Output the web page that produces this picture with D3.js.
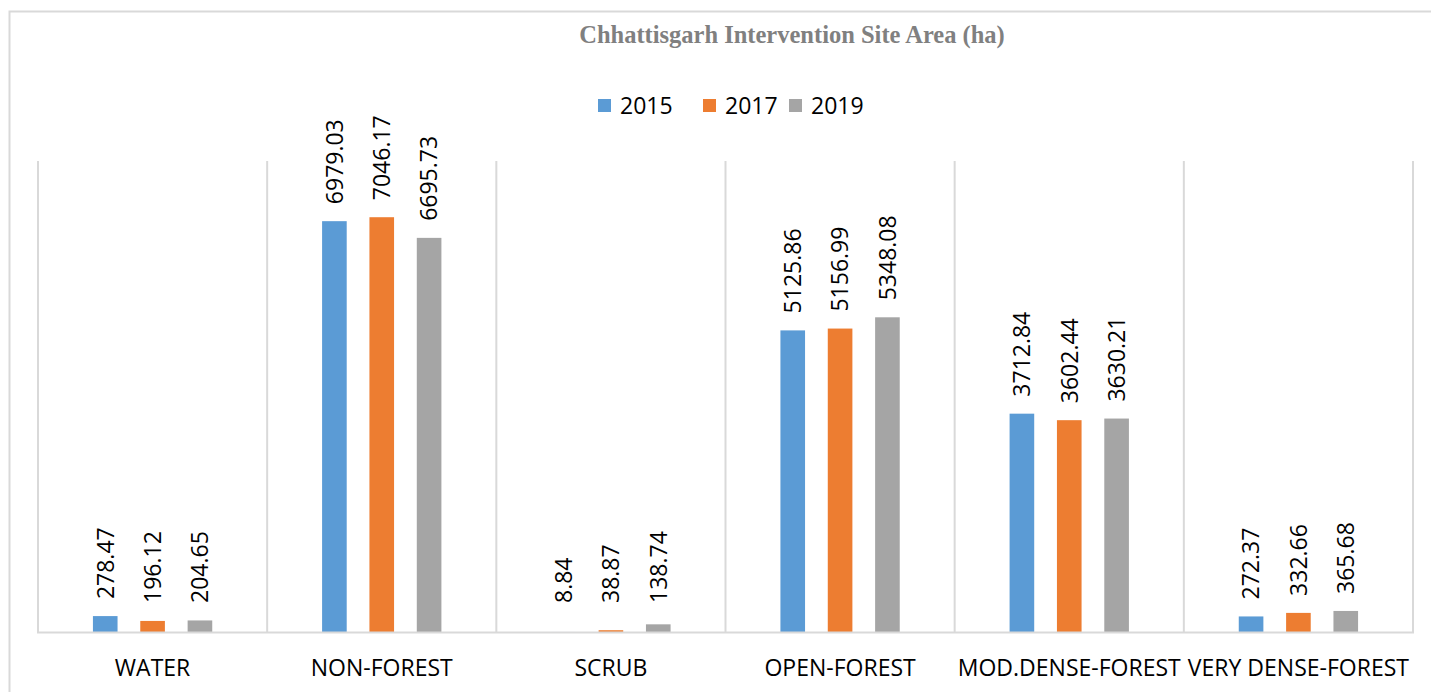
<!DOCTYPE html>
<html>
<head>
<meta charset="utf-8">
<script src="https://cdn.jsdelivr.net/npm/d3@7"></script>
<style>
  html, body { margin: 0; padding: 0; background: #fff; overflow: hidden; }
  svg { display: block; }
</style>
</head>
<body>
<svg id="chart" width="1431" height="692"></svg>
<script>
// ---- data ----
const categories = ["WATER", "NON-FOREST", "SCRUB", "OPEN-FOREST", "MOD.DENSE-FOREST", "VERY DENSE-FOREST"];
const seriesNames = ["2015", "2017", "2019"];
const values2015 = [278.47, 6979.03, 8.84, 5125.86, 3712.84, 272.37];
const values2017 = [196.12, 7046.17, 38.87, 5156.99, 3602.44, 332.66];
const values2019 = [204.65, 6695.73, 138.74, 5348.08, 3630.21, 365.68];
const labels2015 = ["278.47", "6979.03", "8.84", "5125.86", "3712.84", "272.37"];
const labels2017 = ["196.12", "7046.17", "38.87", "5156.99", "3602.44", "332.66"];
const labels2019 = ["204.65", "6695.73", "138.74", "5348.08", "3630.21", "365.68"];
const colors = ["#5b9bd5", "#ed7d31", "#a5a5a5"];
const titleText = "Chhattisgarh Intervention Site Area (ha)";

const seriesValues = [values2015, values2017, values2019];
const seriesLabels = [labels2015, labels2017, labels2019];

const svg = d3.select("#chart");
const font = "'Open Sans', 'Noto Sans', sans-serif";

// chart border
svg.append("rect")
  .attr("x", 9.5).attr("y", 11.5)
  .attr("width", 1440).attr("height", 700)
  .attr("fill", "#fff")
  .attr("stroke", "#d9d9d9").attr("stroke-width", 2);

// scales
const plotLeft = 38, plotRight = 1413, plotTop = 161, plotBottom = 632.5;
const x0 = d3.scaleBand().domain(categories).range([plotLeft, plotRight]).paddingInner(0).paddingOuter(0);
const x1 = d3.scaleBand().domain(seriesNames).range([0, x0.bandwidth()]).paddingInner(0.48).paddingOuter(1.16);
const y = d3.scaleLinear().domain([0, 8000]).range([plotBottom, plotTop]);

// vertical category gridlines
const bounds = categories.map(c => x0(c)).concat([x0(categories[categories.length - 1]) + x0.bandwidth()]);
svg.append("g").selectAll("line").data(bounds).join("line")
  .attr("x1", d => d).attr("x2", d => d)
  .attr("y1", plotTop).attr("y2", plotBottom)
  .attr("stroke", "#d9d9d9").attr("stroke-width", 2);

// bars
const groups = svg.append("g").selectAll("g").data(categories).join("g")
  .attr("transform", c => `translate(${x0(c)},0)`);

seriesNames.forEach((s, si) => {
  groups.append("rect")
    .attr("x", c => x1(s))
    .attr("width", x1.bandwidth())
    .attr("y", (c, i) => y(seriesValues[si][i]))
    .attr("height", (c, i) => plotBottom - y(seriesValues[si][i]))
    .attr("fill", colors[si]);
});

// axis baseline
svg.append("line")
  .attr("x1", plotLeft - 1).attr("x2", plotRight + 1)
  .attr("y1", plotBottom).attr("y2", plotBottom)
  .attr("stroke", "#d9d9d9").attr("stroke-width", 2);

// data labels (rotated)
seriesNames.forEach((s, si) => {
  groups.append("text")
    .attr("transform", (c, i) => {
      const cx = x1(s) + x1.bandwidth() / 2;
      const by = Math.min(y(seriesValues[si][i]) - 17, 603);
      return `translate(${cx},${by}) rotate(-90)`;
    })
    .attr("text-anchor", "start")
    .attr("dy", "0.36em")
    .attr("font-family", font)
    .attr("font-size", 23)
    .attr("fill", "#000")
    .text((c, i) => seriesLabels[si][i]);
});

// category labels
svg.append("g").selectAll("text").data(categories).join("text")
  .attr("x", c => x0(c) + x0.bandwidth() / 2)
  .attr("y", 676)
  .attr("text-anchor", "middle")
  .attr("font-family", font)
  .attr("font-size", 23)
  .attr("fill", "#000")
  .text(c => c);

// title
svg.append("text")
  .attr("x", 792).attr("y", 43)
  .attr("text-anchor", "middle")
  .attr("font-family", "'Liberation Serif', 'Times New Roman', serif")
  .attr("font-weight", "bold")
  .attr("font-size", 24.5)
  .attr("fill", "#808080")
  .text(titleText);

// legend
const legendX = [598, 703, 789];
const legend = svg.append("g").selectAll("g").data(seriesNames).join("g")
  .attr("transform", (d, i) => `translate(${legendX[i]},99)`);
legend.append("rect").attr("width", 13).attr("height", 13).attr("fill", (d, i) => colors[i]);
legend.append("text")
  .attr("x", 22).attr("y", 6.5).attr("dy", "0.36em")
  .attr("font-family", font).attr("font-size", 23).attr("fill", "#000")
  .text(d => d);
</script>
</body>
</html>
